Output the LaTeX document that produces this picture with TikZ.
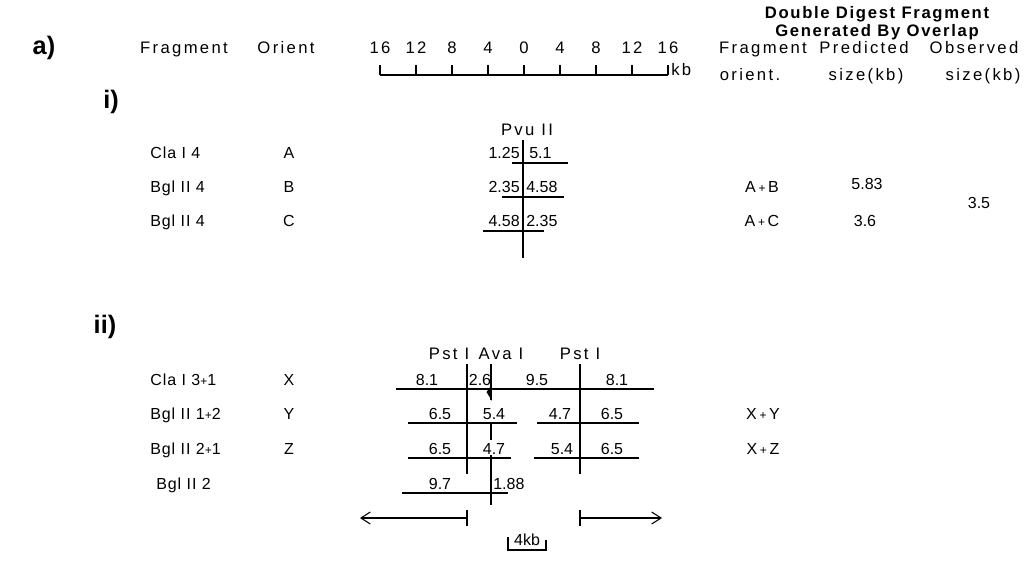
\documentclass[tikz,border=0pt]{standalone}
\usepackage{fontspec}
\setmainfont{Liberation Sans}
\newfontfamily\hdfont{Liberation Sans}[LetterSpace=14]
\newfontfamily\bhfont{Liberation Sans}[LetterSpace=10]
\newfontfamily\nmfont{Liberation Sans}[LetterSpace=6]
\usetikzlibrary{arrows.meta}
\begin{document}
\begin{tikzpicture}[x=0.75pt,y=-0.75pt,
  hd/.style={font=\hdfont\fontsize{12.5}{14}\selectfont, inner sep=0pt, anchor=base},
  bhd/.style={font=\bhfont\bfseries\fontsize{12.5}{14}\selectfont, inner sep=0pt, anchor=base},
  nm/.style={font=\nmfont\fontsize{12}{14}\selectfont, inner sep=0pt, anchor=base},
  num/.style={font=\fontsize{12}{14}\selectfont, inner sep=0pt, anchor=base},
  big/.style={font=\bfseries\fontsize{19}{21}\selectfont, inner sep=0pt, anchor=base},
  ln/.style={line width=0.8pt},
  arr/.style={line width=0.8pt, -{Straight Barb[length=7pt,width=9pt]}}]
\useasboundingbox (0,0) rectangle (1027,579);

% ---------- headers ----------
\node[bhd] (hdd) at (877,18) {Double Digest Fragment};
\node[bhd] (hgo) at (877,36) {Generated By Overlap};
\node[big] (la) at (44,54) {a)};
\node[hd] (hfrag) at (184,53) {Fragment};
\node[hd] (hor) at (286,53) {Orient};
\foreach \v [count=\i from 0] in {16,12,8,4,0,4,8,12,16}{
  \node[hd] (s\i) at (380+36*\i,53) {\v};
  \draw[ln] (380+36*\i,65) -- (380+36*\i,75);
}
\draw[ln] (380,75) -- (668,75);
\node[hd,anchor=base west] (skb) at (671,75) {kb};
\node[hd] (hf2) at (763,53) {Fragment};
\node[hd] (ho2) at (750,80) {orient.};
\node[hd] (hp) at (864,53) {Predicted};
\node[hd] (hs1) at (866,80) {size(kb)};
\node[hd] (hob) at (974,53) {Observed};
\node[hd] (hs2) at (983,80) {size(kb)};

% ---------- i) ----------
\node[big] (li) at (111,108) {i)};
\node[hd] (pvu) at (527,135) {Pvu II};
\node[nm,anchor=base west] (n1) at (150,158) {Cla I 4};
\node[nm,anchor=base west] (n2) at (150,192) {Bgl II 4};
\node[nm,anchor=base west] (n3) at (150,226) {Bgl II 4};
\node[nm] (o1) at (289,158) {A};
\node[nm] (o2) at (289,192) {B};
\node[nm] (o3) at (289,226) {C};
\draw[ln] (523,140) -- (523,258);
\node[num,anchor=base east] (a1) at (520,158) {1.25};
\node[num,anchor=base west] (a2) at (529,158) {5.1};
\draw[ln] (512,163) -- (568,163);
\node[num,anchor=base east] (b1) at (520,192) {2.35};
\node[num,anchor=base west] (b2) at (526,192) {4.58};
\draw[ln] (502,197) -- (564,197);
\node[num,anchor=base east] (c1) at (520,226) {4.58};
\node[num,anchor=base west] (c2) at (526,226) {2.35};
\draw[ln] (483,231) -- (544,231);
\node[nm] (r1) at (762,192) {A\,{\small+}\,B};
\node[num] (p1) at (867,189) {5.83};
\node[nm] (r2) at (762,226) {A\,{\small+}\,C};
\node[num] (p2) at (865,226) {3.6};
\node[num] (q1) at (979,208) {3.5};

% ---------- ii) ----------
\node[big] (lii) at (105,333) {ii)};
\node[hd] (pst1) at (449,359) {Pst I};
\node[hd] (ava) at (501,359) {Ava I};
\node[hd] (pst2) at (580,359) {Pst I};
\node[nm,anchor=base west] (m1) at (150,385) {Cla I 3{\small+}1};
\node[nm,anchor=base west] (m2) at (150,419) {Bgl II 1{\small+}2};
\node[nm,anchor=base west] (m3) at (150,454) {Bgl II 2{\small+}1};
\node[nm,anchor=base west] (m4) at (156,489) {Bgl II 2};
\node[nm] (ox) at (289,385) {X};
\node[nm] (oy) at (289,419) {Y};
\node[nm] (oz) at (289,454) {Z};

% vertical cut lines
\draw[ln] (467,364) -- (467,474);
\draw[ln] (580,364) -- (580,474);
\draw[ln] (491,364) -- (491,400);
\fill (491,386) -- (486.5,392) -- (492,401) -- cycle;
\draw[ln] (491,423) -- (491,440);
\draw[ln] (491,455) -- (491,505);

% row X
\node[num] (x1) at (427,385) {8.1};
\node[num] (x2) at (480,385) {2.6};
\node[num] (x3) at (537,385) {9.5};
\node[num] (x4) at (617,385) {8.1};
\draw[ln] (396,389) -- (654,389);
% row Y
\node[num] (y1) at (440,419) {6.5};
\node[num] (y2) at (494,419) {5.4};
\node[num] (y3) at (560,419) {4.7};
\node[num] (y4) at (612,419) {6.5};
\draw[ln] (408,423) -- (517,423);
\draw[ln] (537,423) -- (639,423);
% row Z
\node[num] (z1) at (440,454) {6.5};
\node[num] (z2) at (494,454) {4.7};
\node[num] (z3) at (562,454) {5.4};
\node[num] (z4) at (612,454) {6.5};
\draw[ln] (408,458) -- (511,458);
\draw[ln] (534,458) -- (639,458);
% row Bgl II 2
\node[num] (w1) at (440,489) {9.7};
\node[num,anchor=base west] (w2) at (493,489) {1.88};
\draw[ln] (402,493) -- (508,493);

\node[nm] (rx1) at (763,419) {X\,{\small+}\,Y};
\node[nm] (rx2) at (763,454) {X\,{\small+}\,Z};

% scale arrows
\coordinate (la1) at (467,518);
\coordinate (la2) at (360,518);
\coordinate (ra1) at (580,518);
\coordinate (ra2) at (662,518);
\draw[ln] (467,510) -- (467,526);
\draw[ln] (580,510) -- (580,526);
\draw[arr] (la1) -- (la2);
\draw[arr] (ra1) -- (ra2);
\node[num] (kb4) at (527,545) {4kb};
\draw[ln] (508,537) -- (508,550) -- (546,550) -- (546,540);
\end{tikzpicture}
\end{document}
